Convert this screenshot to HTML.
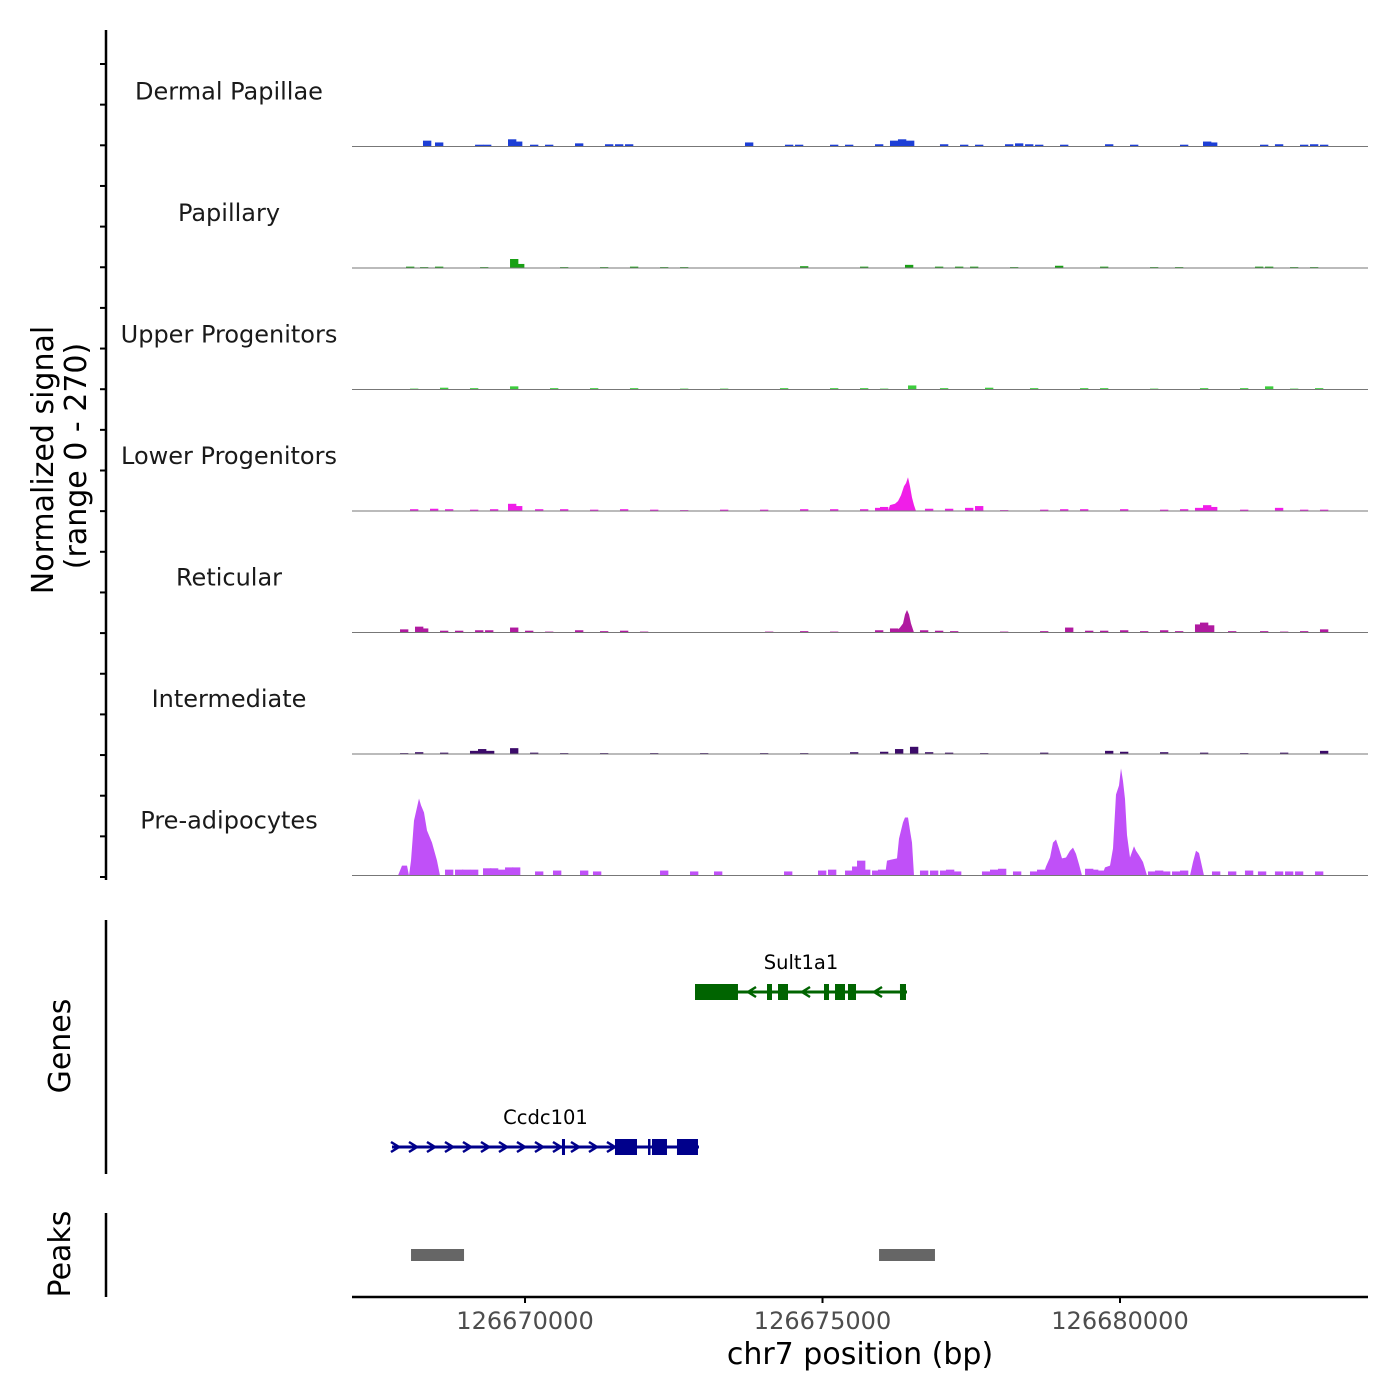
<!DOCTYPE html>
<html><head><meta charset="utf-8"><style>
html,body{margin:0;padding:0;background:#fff}
svg{display:block;font-family:"DejaVu Sans","Liberation Sans",sans-serif}
</style></head><body>
<svg id="chart" width="1400" height="1400" viewBox="0 0 1400 1400" xmlns="http://www.w3.org/2000/svg">
<g id="axes">
<line x1="106" y1="30" x2="106" y2="880" stroke="#000" stroke-width="2.5"/>
<line x1="106" y1="920" x2="106" y2="1174" stroke="#000" stroke-width="2.5"/>
<line x1="106" y1="1213" x2="106" y2="1297" stroke="#000" stroke-width="2.5"/>
<line x1="352" y1="1297" x2="1368" y2="1297" stroke="#000" stroke-width="2.5"/>
<text transform="translate(53,460) rotate(-90)" text-anchor="middle" font-size="30" fill="#000">Normalized signal</text>
<text transform="translate(86,456) rotate(-90)" text-anchor="middle" font-size="30" fill="#000">(range 0 - 270)</text>
<text transform="translate(70,1046) rotate(-90)" text-anchor="middle" font-size="30" fill="#000">Genes</text>
<text transform="translate(70,1254) rotate(-90)" text-anchor="middle" font-size="30" fill="#000">Peaks</text>
<text x="860" y="1364" text-anchor="middle" font-size="30" fill="#000">chr7 position (bp)</text>
</g>
<g id="tracks"></g>
<g id="genes"></g>
<g id="peaks"></g>
<g id="xticks"></g>
</svg>
<script>
const regionStart = 126667000;
const xDomain = [126667092, 126684168];
const xTicks = [126670000, 126675000, 126680000];
const yMax = 270;
const trackNames = ["Dermal Papillae","Papillary","Upper Progenitors","Lower Progenitors","Reticular","Intermediate","Pre-adipocytes"];
const trackColors = ["#1d3fd6","#19a015","#3dcc3d","#f01ee8","#b01aa0","#3c0b6a","#c050f8"];

// bins: offsets (bp from regionStart) and values
const binPos_dermal = [1285,1487,2160,2294,2714,2815,3084,3336,3840,4344,4512,4680,6697,7369,7537,8126,8378,8882,9134,9268,9403,9974,10311,10563,11067,11235,11404,11572,11992,12748,13168,14008,14395,14496,15353,15604,16025,16193,16361];
const binVal_dermal = [13,9,4,4,16,11,4,4,7,5,5,5,9,4,4,4,4,5,13,16,13,5,4,4,5,7,5,4,4,5,4,4,11,9,4,5,4,5,4];
const binPos_papillary = [1000,1235,1487,2244,2748,2849,3588,4260,4764,5269,5605,7622,8630,9386,9890,10227,10479,11151,11907,12664,13504,13924,15269,15437,15857,16193];
const binVal_papillary = [3,2,3,2,20,9,2,2,3,2,2,4,3,7,3,3,3,2,5,3,2,2,3,3,2,2];
const binPos_upper = [1067,1571,2075,2748,3420,4092,4764,5605,6277,7285,8126,8630,8966,9437,9974,10731,11487,12328,12664,13504,14344,15017,15437,15857,16277];
const binVal_upper = [2,4,3,7,3,3,3,2,2,3,3,3,2,9,3,4,3,3,3,2,3,3,7,2,3];
const binPos_lower = [1067,1403,1655,2075,2411,2714,2815,3168,3588,4092,4596,5101,5605,6277,6949,7622,8126,8630,8882,8966,9722,10058,10395,10563,10983,11656,11992,12328,13000,13672,14008,14260,14395,14496,15017,15604,16025,16361];
const binVal_lower = [4,5,4,3,4,16,11,4,4,3,4,3,2,3,3,4,4,4,7,9,5,5,7,11,2,3,4,4,4,3,4,7,13,9,3,7,3,3];
const binPos_reticular = [899,1151,1235,1571,1823,2160,2328,2748,3000,3336,3840,4260,4596,4932,7033,7622,8126,8882,9134,9638,9890,10143,10983,11656,12076,12412,12664,13000,13336,13672,13924,14260,14344,14445,14815,15353,15689,16025,16361];
const binVal_reticular = [7,13,9,4,4,5,5,11,4,2,5,3,4,2,2,3,2,5,9,5,4,3,2,3,11,4,4,5,3,5,3,18,22,16,3,3,2,3,7];
const binPos_intermediate = [899,1151,1571,2075,2210,2344,2748,3084,3588,4260,5101,5941,6949,7622,8462,8966,9218,9470,9722,10058,10647,11656,12748,13000,13672,14344,15017,15689,16361];
const binVal_intermediate = [2,4,3,7,11,7,13,3,2,2,2,2,2,2,4,5,11,16,4,3,2,3,7,5,4,3,2,3,7];
const binPos_preadipo = [1655,1823,1941,2075,2294,2411,2546,2664,2781,3168,3470,3924,4142,5269,5773,6176,7353,7924,8092,8378,8496,8580,8664,8832,8932,9638,9806,9974,10075,10193,10680,10815,10949,11201,11487,11605,12412,12496,12596,13470,13588,13706,13874,14008,14546,14815,15100,15318,15604,15773,15940,16277];
const binVal_preadipo = [13,13,13,13,16,16,13,18,18,9,11,11,9,11,9,9,9,11,13,11,20,33,13,11,13,11,11,11,13,9,9,13,15,9,9,13,15,13,11,9,11,9,9,11,9,9,11,9,9,9,9,9];

// peak polylines: offsets and values
const peakPos_lower = [9101,9134,9218,9268,9319,9369,9403,9437,9470,9504,9538,9571];
const peakVal_lower = [0,13,16,22,35,55,62,75,55,30,13,0];
const peakPos_reticular = [9218,9302,9353,9386,9420,9453,9487,9538];
const peakVal_reticular = [0,11,20,40,50,40,20,0];
const peakPos_preadipo = [865,932,1016,1050,1084,1134,1218,1252,1302,1353,1437,1521,1571, 9050,9084,9252,9285,9353,9386,9437,9470,9504,9538, 11706,11756,11823,11874,11924,11974,12025,12092,12159,12210,12260,12310,12361, 12697,12748,12832,12882,12933,12983,13017,13050,13084,13118,13168,13235,13269,13319,13386,13454, 14176,14226,14277,14327,14378,14411];
const peakVal_preadipo = [0,22,22,0,33,122,171,156,140,100,73,33,0, 0,33,38,82,118,129,129,100,73,0, 0,20,40,73,80,60,38,40,55,62,48,25,0, 0,18,22,60,180,200,238,210,170,90,40,65,55,45,30,0, 0,30,55,50,20,0];

const binSets = [[binPos_dermal,binVal_dermal],[binPos_papillary,binVal_papillary],[binPos_upper,binVal_upper],[binPos_lower,binVal_lower],[binPos_reticular,binVal_reticular],[binPos_intermediate,binVal_intermediate],[binPos_preadipo,binVal_preadipo]];
const peakSets = [null,null,null,[peakPos_lower,peakVal_lower],[peakPos_reticular,peakVal_reticular],null,[peakPos_preadipo,peakVal_preadipo]];

// genes
const geneNames = ["Sult1a1","Ccdc101"];
const geneStrand = ["-","+"];
const geneStart = [5857, 764];
const geneEnd = [9420, 5924];
const geneExons = [
  [[5857,6579],[7067,7151],[7252,7420],[8025,8109],[8210,8378],[8428,8563],[9302,9403]],
  [[3621,3672],[4512,4882],[5067,5101],[5134,5386],[5554,5907]]
];
const geneColors = ["#006400","#00008b"];
const peakStart = [1084, 8950];
const peakEnd = [1975, 9890];

const NS = "http://www.w3.org/2000/svg";
const PX0 = 352, PX1 = 1368;
function xScale(bp){ return PX0 + (bp - xDomain[0])/(xDomain[1]-xDomain[0])*(PX1-PX0); }
function xOff(off){ return xScale(regionStart + off); }
const trackH = 121.5, firstBase = 146.5;
function yScale(i, v){ return firstBase + i*trackH - v/yMax*trackH; }
function mk(tag, attrs, parent){ const e=document.createElementNS(NS,tag); for(const k in attrs) e.setAttribute(k,attrs[k]); parent.appendChild(e); return e; }

const tracksG = document.getElementById('tracks');
const axes = document.getElementById('axes');
for(let k=0;k<=20;k++){
  const y = 64 + k*(877-64)/20;
  const t = mk('line',{x1:100,x2:106,y1:y,y2:y,stroke:'#000','stroke-width':2},axes);
  
  
}
const binW = 140;
trackNames.forEach((name,i)=>{
  const g = mk('g',{},tracksG);
  
  
  const base = yScale(i,0);
  const lbl = mk('text',{x:229,y:base-47,'text-anchor':'middle','font-size':24,fill:'#1a1a1a'},g);
  lbl.textContent = name;
  
  
  const [bp,bv] = binSets[i];
  bp.forEach((p,j)=>{
    const x0 = xOff(p), x1 = xOff(p+binW), y = yScale(i,bv[j]);
    const r = mk('rect',{x:x0,y:y,width:x1-x0,height:base-y,fill:trackColors[i]},g);
    
    
  });
  if(peakSets[i]){
    const [pp,pv] = peakSets[i];
    let d='';
    pp.forEach((p,j)=>{ d += (j===0?'M':'L') + xOff(p).toFixed(1)+','+yScale(i,pv[j]).toFixed(1)+' '; });
    const a = mk('path',{d:d+'Z',fill:trackColors[i]},g);
    
    
  }
  const bl = mk('line',{x1:PX0,x2:PX1,y1:base,y2:base,stroke:'#777','stroke-width':1},g);
  
  
});

const genesG = document.getElementById('genes');
const geneY = [992, 1147];
geneNames.forEach((n,i)=>{
  const g = mk('g',{},genesG);
  
  
  const c = geneColors[i], y = geneY[i];
  const xs = xOff(geneStart[i]), xe = xOff(geneEnd[i]);
  mk('line',{x1:xs,x2:xe,y1:y,y2:y,stroke:c,'stroke-width':3},g);
  const step = 18;
  for(let x = xs+3; x < xe-4; x += step){
    const inEx = geneExons[i].some(e=>x>=xOff(e[0])-4 && x<=xOff(e[1])+4);
    if(inEx) continue;
    const dx = geneStrand[i]==='+'?4:-4;
    mk('polyline',{points:`${x-dx},${y-5} ${x+dx},${y} ${x-dx},${y+5}`,fill:'none',stroke:c,'stroke-width':2.5},g);
  }
  geneExons[i].forEach(e=>{
    const x0=xOff(e[0]), x1=xOff(e[1]);
    const r = mk('rect',{x:x0,y:y-8,width:Math.max(x1-x0,2.5),height:16,fill:c},g);
    
    
  });
  const t = mk('text',{x:(xs+xe)/2,y:y-23,'text-anchor':'middle','font-size':19.5,fill:'#000'},g);
  t.textContent = n;
  
  
});

const peaksG = document.getElementById('peaks');
peakStart.forEach((s,i)=>{
  const r = mk('rect',{x:xOff(s),y:1249,width:xOff(peakEnd[i])-xOff(s),height:12,fill:'#666'},peaksG);
  
  
});

const xt = document.getElementById('xticks');
xTicks.forEach(v=>{
  const x = xScale(v);
  const l = mk('line',{x1:x,x2:x,y1:1297,y2:1303,stroke:'#000','stroke-width':2},xt);
  
  
  const t = mk('text',{x:x,y:1329,'text-anchor':'middle','font-size':24,fill:'#4d4d4d'},xt);
  t.textContent = String(v);
  
  
});
</script>
</body></html>
